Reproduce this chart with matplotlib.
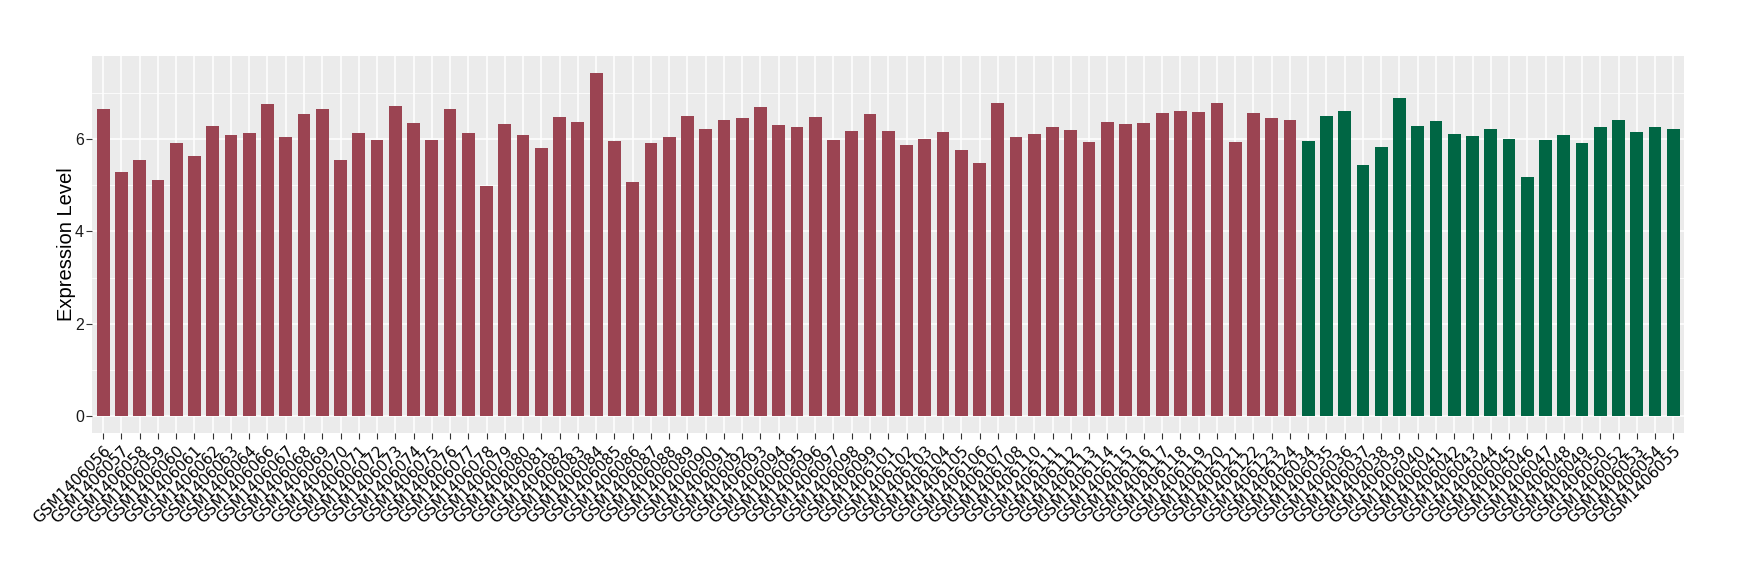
import matplotlib
matplotlib.use("Agg")
import matplotlib.pyplot as plt
from matplotlib.ticker import FixedLocator

red_samples = ["GSM1406056", "GSM1406057", "GSM1406058", "GSM1406059", "GSM1406060",
               "GSM1406061", "GSM1406062", "GSM1406063", "GSM1406064", "GSM1406066",
               "GSM1406067", "GSM1406068", "GSM1406069", "GSM1406070", "GSM1406071",
               "GSM1406072", "GSM1406073", "GSM1406074", "GSM1406075", "GSM1406076",
               "GSM1406077", "GSM1406078", "GSM1406079", "GSM1406080", "GSM1406081",
               "GSM1406082", "GSM1406083", "GSM1406084", "GSM1406085", "GSM1406086",
               "GSM1406087", "GSM1406088", "GSM1406089", "GSM1406090", "GSM1406091",
               "GSM1406092", "GSM1406093", "GSM1406094", "GSM1406095", "GSM1406096",
               "GSM1406097", "GSM1406098", "GSM1406099", "GSM1406101", "GSM1406102",
               "GSM1406103", "GSM1406104", "GSM1406105", "GSM1406106", "GSM1406107",
               "GSM1406108", "GSM1406110", "GSM1406111", "GSM1406112", "GSM1406113",
               "GSM1406114", "GSM1406115", "GSM1406116", "GSM1406117", "GSM1406118",
               "GSM1406119", "GSM1406120", "GSM1406121", "GSM1406122", "GSM1406123",
               "GSM1406124"]
red_values = [6.65, 5.28, 5.54, 5.11, 5.91, 5.63, 6.28, 6.09, 6.13, 6.76,
              6.04, 6.54, 6.65, 5.54, 6.13, 5.98, 6.72, 6.35, 5.98, 6.65,
              6.13, 4.98, 6.33, 6.09, 5.80, 6.48, 6.37, 7.43, 5.96, 5.07,
              5.91, 6.04, 6.50, 6.22, 6.41, 6.46, 6.70, 6.30, 6.26, 6.48,
              5.98, 6.17, 6.54, 6.17, 5.87, 6.00, 6.15, 5.76, 5.48, 6.78,
              6.04, 6.11, 6.26, 6.20, 5.93, 6.37, 6.33, 6.35, 6.57, 6.61,
              6.59, 6.78, 5.93, 6.57, 6.46, 6.41]

green_samples = ["GSM1406034", "GSM1406035", "GSM1406036", "GSM1406037", "GSM1406038",
                 "GSM1406039", "GSM1406040", "GSM1406041", "GSM1406042", "GSM1406043",
                 "GSM1406044", "GSM1406045", "GSM1406046", "GSM1406047", "GSM1406048",
                 "GSM1406049", "GSM1406050", "GSM1406052", "GSM1406053", "GSM1406054",
                 "GSM1406055"]
green_values = [5.96, 6.50, 6.61, 5.43, 5.83, 6.89, 6.28, 6.39, 6.11, 6.07,
                6.22, 6.00, 5.17, 5.98, 6.09, 5.91, 6.26, 6.41, 6.15, 6.26,
                6.22]

y_ticks = [0, 2, 4, 6]
y_minor = [1, 3, 5, 7]
y_label = "Expression Level"

red_color = "#9B4452"
green_color = "#006644"

samples = red_samples + green_samples
values = red_values + green_values
colors = [red_color] * len(red_samples) + [green_color] * len(green_samples)
x = list(range(len(samples)))

fig = plt.figure(figsize=(17.4, 5.8), dpi=100)
ax = fig.add_axes([0.053, 0.253, 0.915, 0.651])
ax.set_facecolor("#EBEBEB")

ax.bar(x, values, width=0.7, color=colors, zorder=3)

ymax = max(values)
ax.set_ylim(-0.05 * ymax, ymax * 1.05)
ax.set_xlim(-0.6, len(samples) - 1 + 0.6)

ax.yaxis.set_major_locator(FixedLocator(y_ticks))
ax.yaxis.set_minor_locator(FixedLocator(y_minor))
ax.set_xticks(x)
ax.set_xticklabels(samples, rotation=45, ha="right", va="top",
                   rotation_mode="anchor", fontsize=11, family="DejaVu Sans",
                   color="black")
for lab in ax.get_yticklabels():
    lab.set_fontfamily("Liberation Sans")
    lab.set_fontsize(11.5)
    lab.set_color("#1a1a1a")

ax.grid(which="major", color="white", linewidth=1.1, zorder=0)
ax.grid(which="minor", axis="y", color="white", linewidth=0.55, zorder=0)
ax.set_axisbelow(True)
for s in ax.spines.values():
    s.set_visible(False)
ax.tick_params(axis="both", which="major", length=4, width=0.8, color="#333333")
ax.tick_params(axis="x", pad=3)
ax.tick_params(axis="y", pad=2)
ax.tick_params(which="minor", length=0)

ax.set_ylabel(y_label, fontsize=14.5, family="Liberation Sans", labelpad=-1)

fig.savefig("out.png", dpi=100, facecolor="white")
